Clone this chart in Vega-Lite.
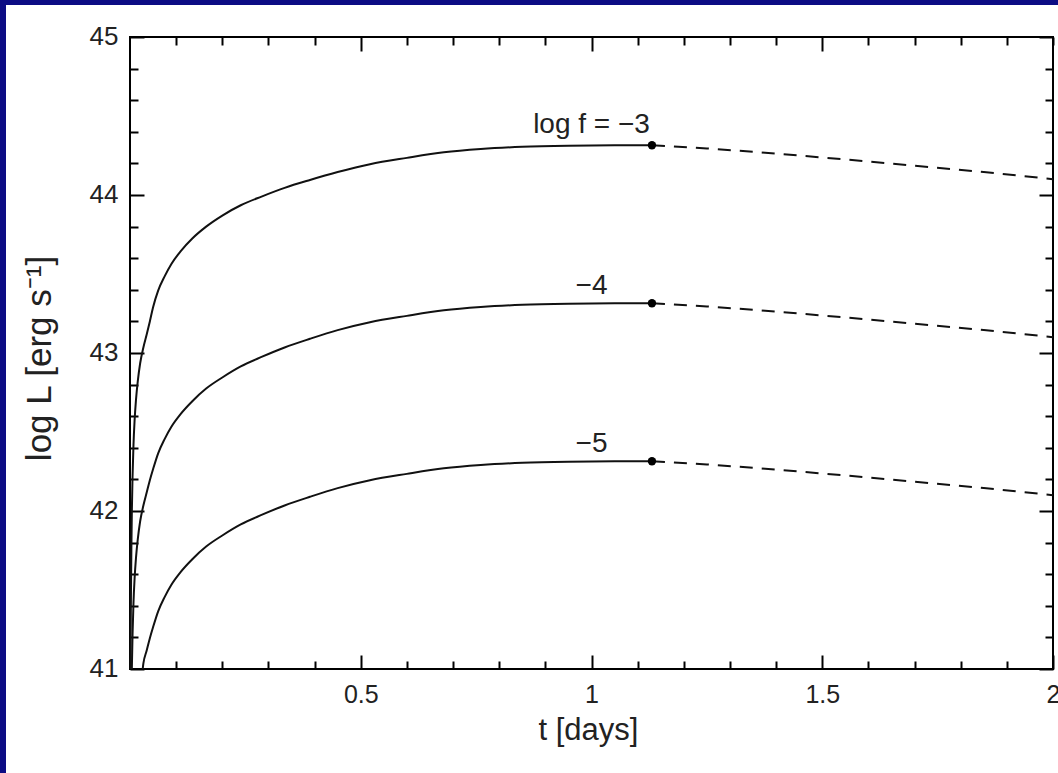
{
  "$schema": "https://vega.github.io/schema/vega-lite/v6.json",
  "width": 1052,
  "height": 768,
  "autosize": {"type": "none"},
  "padding": {"left": 6, "top": 5, "right": 0, "bottom": 0},
  "background": "#0c0c84",
  "config": {"view": {"fill": "white", "stroke": null}, "font": "Liberation Sans"},
  "datasets": {
    "frame": [{"x0": 0, "x1": 2, "y0": 41, "y1": 45}],
    "rise": [
      {"f": -3, "t": 0.0012, "L": 41.0},
      {"f": -3, "t": 0.0015, "L": 41.235},
      {"f": -3, "t": 0.0022, "L": 41.515},
      {"f": -3, "t": 0.003, "L": 41.765},
      {"f": -3, "t": 0.004, "L": 41.995},
      {"f": -3, "t": 0.0055, "L": 42.215},
      {"f": -3, "t": 0.0075, "L": 42.415},
      {"f": -3, "t": 0.01, "L": 42.575},
      {"f": -3, "t": 0.013, "L": 42.705},
      {"f": -3, "t": 0.017, "L": 42.825},
      {"f": -3, "t": 0.022, "L": 42.935},
      {"f": -3, "t": 0.029, "L": 43.035},
      {"f": -3, "t": 0.036, "L": 43.115},
      {"f": -3, "t": 0.043, "L": 43.2},
      {"f": -3, "t": 0.05, "L": 43.29},
      {"f": -3, "t": 0.061, "L": 43.395},
      {"f": -3, "t": 0.075, "L": 43.485},
      {"f": -3, "t": 0.09, "L": 43.565},
      {"f": -3, "t": 0.11, "L": 43.645},
      {"f": -3, "t": 0.135, "L": 43.725},
      {"f": -3, "t": 0.165, "L": 43.8},
      {"f": -3, "t": 0.2, "L": 43.87},
      {"f": -3, "t": 0.24, "L": 43.935},
      {"f": -3, "t": 0.285, "L": 43.99},
      {"f": -3, "t": 0.335, "L": 44.045},
      {"f": -3, "t": 0.39, "L": 44.095},
      {"f": -3, "t": 0.45, "L": 44.145},
      {"f": -3, "t": 0.52, "L": 44.195},
      {"f": -3, "t": 0.6, "L": 44.235},
      {"f": -3, "t": 0.68, "L": 44.27},
      {"f": -3, "t": 0.76, "L": 44.291},
      {"f": -3, "t": 0.85, "L": 44.305},
      {"f": -3, "t": 0.95, "L": 44.312},
      {"f": -3, "t": 1.05, "L": 44.3145},
      {"f": -3, "t": 1.131, "L": 44.315},
      {"f": -4, "t": 0.004, "L": 41.0},
      {"f": -4, "t": 0.0055, "L": 41.215},
      {"f": -4, "t": 0.0075, "L": 41.415},
      {"f": -4, "t": 0.01, "L": 41.575},
      {"f": -4, "t": 0.013, "L": 41.705},
      {"f": -4, "t": 0.017, "L": 41.825},
      {"f": -4, "t": 0.022, "L": 41.935},
      {"f": -4, "t": 0.029, "L": 42.035},
      {"f": -4, "t": 0.036, "L": 42.115},
      {"f": -4, "t": 0.043, "L": 42.195},
      {"f": -4, "t": 0.05, "L": 42.265},
      {"f": -4, "t": 0.061, "L": 42.365},
      {"f": -4, "t": 0.075, "L": 42.455},
      {"f": -4, "t": 0.09, "L": 42.535},
      {"f": -4, "t": 0.11, "L": 42.615},
      {"f": -4, "t": 0.135, "L": 42.695},
      {"f": -4, "t": 0.165, "L": 42.775},
      {"f": -4, "t": 0.2, "L": 42.845},
      {"f": -4, "t": 0.24, "L": 42.915},
      {"f": -4, "t": 0.285, "L": 42.975},
      {"f": -4, "t": 0.335, "L": 43.035},
      {"f": -4, "t": 0.39, "L": 43.09},
      {"f": -4, "t": 0.45, "L": 43.145},
      {"f": -4, "t": 0.52, "L": 43.195},
      {"f": -4, "t": 0.6, "L": 43.235},
      {"f": -4, "t": 0.68, "L": 43.27},
      {"f": -4, "t": 0.76, "L": 43.291},
      {"f": -4, "t": 0.85, "L": 43.305},
      {"f": -4, "t": 0.95, "L": 43.312},
      {"f": -4, "t": 1.05, "L": 43.3145},
      {"f": -4, "t": 1.131, "L": 43.315},
      {"f": -5, "t": 0.0275, "L": 41.0},
      {"f": -5, "t": 0.029, "L": 41.035},
      {"f": -5, "t": 0.036, "L": 41.115},
      {"f": -5, "t": 0.043, "L": 41.195},
      {"f": -5, "t": 0.05, "L": 41.265},
      {"f": -5, "t": 0.061, "L": 41.365},
      {"f": -5, "t": 0.075, "L": 41.455},
      {"f": -5, "t": 0.09, "L": 41.535},
      {"f": -5, "t": 0.11, "L": 41.615},
      {"f": -5, "t": 0.135, "L": 41.695},
      {"f": -5, "t": 0.165, "L": 41.775},
      {"f": -5, "t": 0.2, "L": 41.845},
      {"f": -5, "t": 0.24, "L": 41.915},
      {"f": -5, "t": 0.285, "L": 41.975},
      {"f": -5, "t": 0.335, "L": 42.035},
      {"f": -5, "t": 0.39, "L": 42.09},
      {"f": -5, "t": 0.45, "L": 42.145},
      {"f": -5, "t": 0.52, "L": 42.195},
      {"f": -5, "t": 0.6, "L": 42.235},
      {"f": -5, "t": 0.68, "L": 42.27},
      {"f": -5, "t": 0.76, "L": 42.291},
      {"f": -5, "t": 0.85, "L": 42.305},
      {"f": -5, "t": 0.95, "L": 42.312},
      {"f": -5, "t": 1.05, "L": 42.3145},
      {"f": -5, "t": 1.131, "L": 42.315}
    ],
    "decay": [
      {"f": -3, "t": 1.131, "L": 44.315},
      {"f": -3, "t": 1.25, "L": 44.295},
      {"f": -3, "t": 1.4, "L": 44.262},
      {"f": -3, "t": 1.55, "L": 44.225},
      {"f": -3, "t": 1.7, "L": 44.185},
      {"f": -3, "t": 1.85, "L": 44.145},
      {"f": -3, "t": 2.0, "L": 44.1},
      {"f": -4, "t": 1.131, "L": 43.315},
      {"f": -4, "t": 1.25, "L": 43.295},
      {"f": -4, "t": 1.4, "L": 43.262},
      {"f": -4, "t": 1.55, "L": 43.225},
      {"f": -4, "t": 1.7, "L": 43.185},
      {"f": -4, "t": 1.85, "L": 43.145},
      {"f": -4, "t": 2.0, "L": 43.1},
      {"f": -5, "t": 1.131, "L": 42.315},
      {"f": -5, "t": 1.25, "L": 42.295},
      {"f": -5, "t": 1.4, "L": 42.262},
      {"f": -5, "t": 1.55, "L": 42.225},
      {"f": -5, "t": 1.7, "L": 42.185},
      {"f": -5, "t": 1.85, "L": 42.145},
      {"f": -5, "t": 2.0, "L": 42.1}
    ],
    "dots": [
      {"f": -3, "t": 1.131, "L": 44.315},
      {"f": -4, "t": 1.131, "L": 43.315},
      {"f": -5, "t": 1.131, "L": 42.315}
    ],
    "labels": [
      {"t": 1.0, "L": 44.39, "label": "log f = −3"},
      {"t": 1.0, "L": 43.375, "label": "−4"},
      {"t": 1.0, "L": 42.375, "label": "−5"}
    ]
  },
  "layer": [
    {
      "data": {"name": "frame"},
      "mark": {"type": "rect", "fill": "white", "fillOpacity": 0, "stroke": "black", "strokeWidth": 2},
      "encoding": {
        "x": {
          "field": "x0", "type": "quantitative",
          "scale": {"domain": [-0.26869, 2.010834], "nice": false, "zero": false},
          "axis": {
            "orient": "bottom", "offset": -104,
            "values": [0.1,0.2,0.3,0.4,0.5,0.6,0.7,0.8,0.9,1,1.1,1.2,1.3,1.4,1.5,1.6,1.7,1.8,1.9,2],
            "domain": false, "grid": false,
            "tickColor": "black", "tickWidth": 2,
            "tickSize": {"condition": {"test": "datum.value == 0.5 || datum.value == 1 || datum.value == 1.5 || datum.value == 2", "value": -14}, "value": -8},
            "format": "~g",
            "labelExpr": "datum.value == 0.5 || datum.value == 1 || datum.value == 1.5 || datum.value == 2 ? datum.label : ''",
            "labelFont": "Liberation Sans", "labelFontSize": 25, "labelColor": "#222",
            "labelPadding": 27, "labelFlush": false, "labelOverlap": false, "labelBound": false,
            "title": "t [days]", "titleFont": "Liberation Sans", "titleFontSize": 31, "titleFontWeight": "normal", "titleColor": "#222",
            "titleX": 582, "titleY": 70, "titleBaseline": "alphabetic", "titleAlign": "center"
          }
        },
        "x2": {"field": "x1"},
        "y": {
          "field": "y0", "type": "quantitative",
          "scale": {"domain": [40.34177, 45.20253], "nice": false, "zero": false},
          "axis": {
            "orient": "left", "offset": -124,
            "values": [41,41.2,41.4,41.6,41.8,42,42.2,42.4,42.6,42.8,43,43.2,43.4,43.6,43.8,44,44.2,44.4,44.6,44.8,45],
            "domain": false, "grid": false,
            "tickColor": "black", "tickWidth": 2,
            "tickSize": {"condition": {"test": "datum.value % 1 == 0", "value": -14}, "value": -8},
            "format": "~g",
            "labelExpr": "datum.value % 1 == 0 ? datum.label : ''",
            "labelFont": "Liberation Sans", "labelFontSize": 26, "labelColor": "#222",
            "labelPadding": 26, "labelOverlap": false, "labelBound": false, "labelFlush": false,
            "title": "log L [erg s⁻¹]", "titleFont": "Liberation Sans", "titleFontSize": 35, "titleFontWeight": "normal", "titleColor": "#222",
            "titleX": -80, "titleY": 353, "titleAngle": -90, "titleBaseline": "alphabetic", "titleAlign": "center"
          }
        },
        "y2": {"field": "y1"}
      }
    },
    {
      "data": {"name": "rise"},
      "mark": {"type": "line", "color": "#111", "strokeWidth": 2, "interpolate": "monotone"},
      "encoding": {
        "x": {
          "field": "t", "type": "quantitative",
          "scale": {"domain": [-0.26869, 2.010834], "nice": false, "zero": false},
          "axis": {
            "orient": "top", "offset": -32,
            "values": [0.1,0.2,0.3,0.4,0.5,0.6,0.7,0.8,0.9,1,1.1,1.2,1.3,1.4,1.5,1.6,1.7,1.8,1.9,2],
            "domain": false, "grid": false, "labels": false, "title": null,
            "tickColor": "black", "tickWidth": 2,
            "tickSize": {"condition": {"test": "datum.value == 0.5 || datum.value == 1 || datum.value == 1.5", "value": -14}, "value": -8}
          }
        },
        "y": {
          "field": "L", "type": "quantitative",
          "scale": {"domain": [40.34177, 45.20253], "nice": false, "zero": false},
          "axis": {
            "orient": "right", "offset": -5,
            "values": [41,41.2,41.4,41.6,41.8,42,42.2,42.4,42.6,42.8,43,43.2,43.4,43.6,43.8,44,44.2,44.4,44.6,44.8,45],
            "domain": false, "grid": false, "labels": false, "title": null,
            "tickColor": "black", "tickWidth": 2,
            "tickSize": {"condition": {"test": "datum.value % 1 == 0", "value": -14}, "value": -8}
          }
        },
        "detail": {"field": "f", "type": "nominal"}
      }
    },
    {
      "data": {"name": "decay"},
      "mark": {"type": "line", "color": "#111", "strokeWidth": 2, "strokeDash": [13, 9]},
      "encoding": {
        "x": {"field": "t", "type": "quantitative", "axis": null},
        "y": {"field": "L", "type": "quantitative", "axis": null},
        "detail": {"field": "f", "type": "nominal"}
      }
    },
    {
      "data": {"name": "dots"},
      "mark": {"type": "circle", "color": "black", "size": 70, "opacity": 1},
      "encoding": {
        "x": {"field": "t", "type": "quantitative", "axis": null},
        "y": {"field": "L", "type": "quantitative", "axis": null}
      }
    },
    {
      "data": {"name": "labels"},
      "mark": {"type": "text", "font": "Liberation Sans", "fontSize": 28, "color": "#222", "align": "center", "baseline": "alphabetic"},
      "encoding": {
        "x": {"field": "t", "type": "quantitative", "axis": null},
        "y": {"field": "L", "type": "quantitative", "axis": null},
        "text": {"field": "label"}
      }
    }
  ],
  "resolve": {"axis": {"x": "independent", "y": "independent"}}
}
